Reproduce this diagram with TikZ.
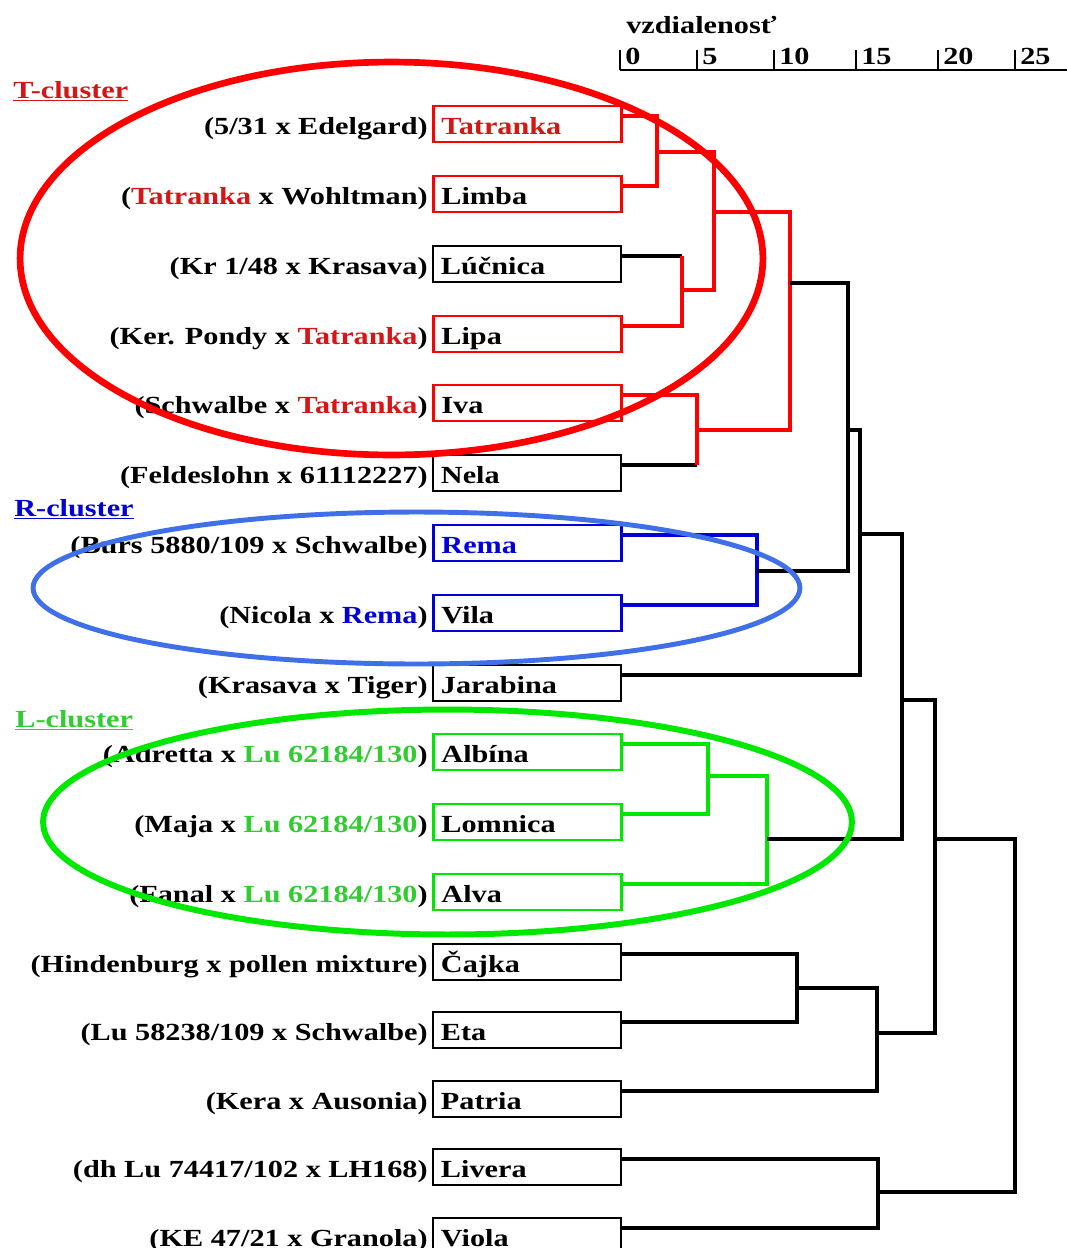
\documentclass[tikz,border=0pt]{standalone}
\usepackage{fontspec}
\setmainfont{Liberation Serif}[FakeStretch=1.23]
\usetikzlibrary{positioning}

\definecolor{tred}{RGB}{255,0,0}
\definecolor{ttxt}{RGB}{214,22,22}
\definecolor{rblue}{RGB}{0,0,215}
\definecolor{rring}{RGB}{64,112,232}
\definecolor{lgreen}{RGB}{0,232,0}
\definecolor{ltxt}{RGB}{48,204,48}

\begin{document}
\begin{tikzpicture}[x=0.02cm,y=-0.02cm,
    font=\fontsize{14}{16}\selectfont\bfseries,
    cv/.style={draw,line width=1.1pt,anchor=west,minimum width=3.76cm,minimum height=0.72cm,
      text width=3.44cm,align=left,inner xsep=0.16cm,inner ysep=0pt,text height=13.4pt,text depth=2pt},
    tcv/.style={cv,draw=tred,line width=1.6pt},
    rcv/.style={cv,draw=rblue,line width=1.6pt},
    lcv/.style={cv,draw=lgreen,line width=1.6pt},
    pedigree/.style={left=0.08cm of #1,inner sep=0pt,text height=13.4pt,text depth=2pt},
    kline/.style={line width=2.3pt},
    tline/.style={draw=tred,line width=1.9pt},
    rline/.style={draw=rblue,line width=1.9pt},
    lline/.style={draw=lgreen,line width=1.9pt}]
    \useasboundingbox (0,0) rectangle (1067,1248);

    %scale
    \node[anchor=base west,inner sep=0pt] (title) at (626,33) {vzdialenosť};
    \draw[line width=1.2pt] (620,70) coordinate (axis0) -- (1067,70) coordinate (axis1);
    \draw[line width=1.2pt] (620,50) -- (620,70) (697,50) -- (697,70) (774,50) -- (774,70)
      (856,50) -- (856,70) (938,50) -- (938,70) (1015,50) -- (1015,70);
    \node[anchor=base west,inner sep=0pt] (s0) at (625,64) {0};
    \node[anchor=base west,inner sep=0pt] (s5) at (702,64) {5};
    \node[anchor=base west,inner sep=0pt] (s10) at (779,64) {10};
    \node[anchor=base west,inner sep=0pt] (s15) at (861,64) {15};
    \node[anchor=base west,inner sep=0pt] (s20) at (943,64) {20};
    \node[anchor=base west,inner sep=0pt] (s25) at (1020,64) {25};

    %cultivars
    \node[tcv,text=ttxt] (tatranka) at (432,124) {Tatranka};
    \node[tcv] (limba) at (432,194) {Limba};
    \node[cv] (lucnica) at (432,264) {Lúčnica};
    \node[tcv] (lipa) at (432,334) {Lipa};
    \node[tcv] (iva) at (432,403) {Iva};
    \node[cv] (nela) at (432,473) {Nela};
    \node[rcv,text=rblue] (rema) at (432,543) {Rema};
    \node[rcv] (vila) at (432,613) {Vila};
    \node[cv] (jarabina) at (432,683) {Jarabina};
    \node[lcv] (albina) at (432,752) {Albína};
    \node[lcv] (lomnica) at (432,822) {Lomnica};
    \node[lcv] (alva) at (432,892) {Alva};
    \node[cv] (cajka) at (432,962) {Čajka};
    \node[cv] (eta) at (432,1030) {Eta};
    \node[cv] (patria) at (432,1099) {Patria};
    \node[cv] (livera) at (432,1167) {Livera};
    \node[cv] (viola) at (432,1236) {Viola};

    %parents
    \node[pedigree=tatranka] (tatranka-p) {(5/31 x Edelgard)};
    \node[pedigree=limba] (limba-p) {(\textcolor{ttxt}{Tatranka} x Wohltman)};
    \node[pedigree=lucnica] (lucnica-p) {(Kr 1/48 x Krasava)};
    \node[pedigree=lipa] (lipa-p) {(Ker. Pondy x \textcolor{ttxt}{Tatranka})};
    \node[pedigree=iva] (iva-p) {(Schwalbe x \textcolor{ttxt}{Tatranka})};
    \node[pedigree=nela] (nela-p) {(Feldeslohn x 61112227)};
    \node[pedigree=rema] (rema-p) {(Burs 5880/109 x Schwalbe)};
    \node[pedigree=vila] (vila-p) {(Nicola x \textcolor{rblue}{Rema})};
    \node[pedigree=jarabina] (jarabina-p) {(Krasava x Tiger)};
    \node[pedigree=albina] (albina-p) {(Adretta x \textcolor{ltxt}{Lu 62184/130})};
    \node[pedigree=lomnica] (lomnica-p) {(Maja x \textcolor{ltxt}{Lu 62184/130})};
    \node[pedigree=alva] (alva-p) {(Fanal x \textcolor{ltxt}{Lu 62184/130})};
    \node[pedigree=cajka] (cajka-p) {(Hindenburg x pollen mixture)};
    \node[pedigree=eta] (eta-p) {(Lu 58238/109 x Schwalbe)};
    \node[pedigree=patria] (patria-p) {(Kera x Ausonia)};
    \node[pedigree=livera] (livera-p) {(dh Lu 74417/102 x LH168)};
    \node[pedigree=viola] (viola-p) {(KE 47/21 x Granola)};

    %line ends
    \coordinate (tatranka-e) at ([yshift=.16cm]tatranka.east);
    \coordinate (limba-e) at ([yshift=.16cm]limba.east);
    \coordinate (lucnica-e) at ([yshift=.16cm]lucnica.east);
    \coordinate (lipa-e) at ([yshift=.16cm]lipa.east);
    \coordinate (iva-e) at ([yshift=.16cm]iva.east);
    \coordinate (nela-e) at ([yshift=.16cm]nela.east);
    \coordinate (rema-e) at ([yshift=.16cm]rema.east);
    \coordinate (vila-e) at ([yshift=.16cm]vila.east);
    \coordinate (jarabina-e) at ([yshift=.16cm]jarabina.east);
    \coordinate (albina-e) at ([yshift=.16cm]albina.east);
    \coordinate (lomnica-e) at ([yshift=.16cm]lomnica.east);
    \coordinate (alva-e) at ([yshift=.16cm]alva.east);
    \coordinate (cajka-e) at ([yshift=.16cm]cajka.east);
    \coordinate (eta-e) at ([yshift=.16cm]eta.east);
    \coordinate (patria-e) at ([yshift=.16cm]patria.east);
    \coordinate (livera-e) at ([yshift=.16cm]livera.east);
    \coordinate (viola-e) at ([yshift=.16cm]viola.east);

    %T-cluster tree
    \coordinate (tali) at (657,152);
    \coordinate (luli) at (682,290);
    \coordinate (tlll) at (714,212);
    \coordinate (ivne) at (697,430);
    \coordinate (tcl) at (790,283);
    \draw[tline] (tatranka-e) -| (tali);
    \draw[tline] (limba-e) -| (tali);
    \draw[kline] (lucnica-e) -- (lucnica-e -| luli);
    \draw[tline] (lucnica-e -| luli) -- (luli);
    \draw[tline] (lipa-e) -| (luli);
    \draw[tline] (tali) -| (tlll);
    \draw[tline] (luli) -| (tlll);
    \draw[tline] (iva-e) -| (ivne);
    \draw[kline] (nela-e) -- (nela-e -| ivne);
    \draw[tline] (nela-e -| ivne) -- (ivne);
    \draw[tline] (tlll) -| (tcl);
    \draw[tline] (ivne) -| (tcl);

    %R-cluster tree
    \coordinate (revi) at (757,571);
    \draw[rline] (rema-e) -| (revi);
    \draw[rline] (vila-e) -| (revi);

    \coordinate (trc) at (848,430);
    \coordinate (trj) at (860,534);
    \draw[kline] (tcl) -| (trc);
    \draw[kline] (revi) -| (trc);
    \draw[kline] (trc) -| (trj);
    \draw[kline] (jarabina-e) -| (trj);

    %L-cluster tree
    \coordinate (allo) at (708,776);
    \coordinate (lcl) at (767,839);
    \draw[lline] (albina-e) -| (allo);
    \draw[lline] (lomnica-e) -| (allo);
    \draw[lline] (allo) -| (lcl);
    \draw[lline] (alva-e) -| (lcl);

    \coordinate (upper) at (902,700);
    \draw[kline] (trj) -| (upper);
    \draw[kline] (lcl) -| (upper);

    %rest of tree
    \coordinate (caet) at (797,988);
    \coordinate (cep) at (877,1033);
    \coordinate (mid) at (935,839);
    \coordinate (live) at (878,1192);
    \coordinate (root) at (1015,1016);
    \draw[kline] (cajka-e) -| (caet);
    \draw[kline] (eta-e) -| (caet);
    \draw[kline] (caet) -| (cep);
    \draw[kline] (patria-e) -| (cep);
    \draw[kline] (upper) -| (mid);
    \draw[kline] (cep) -| (mid);
    \draw[kline] (livera-e) -| (live);
    \draw[kline] (viola-e) -| (live);
    \draw[kline] (mid) -| (root);
    \draw[kline] (live) -| (root);

    %cluster marks
    \node[anchor=base west,inner sep=0pt,text=ttxt] (tlabel) at (13,98) {\underline{T-cluster}};
    \node[anchor=base west,inner sep=0pt,text=rblue] (rlabel) at (14,516) {\underline{R-cluster}};
    \node[anchor=base west,inner sep=0pt,text=ltxt] (llabel) at (15,727) {\underline{L-cluster}};
    \draw[tred,line width=3.8pt] (391.5,258.5) ellipse [x radius=7.43cm, y radius=3.93cm];
    \draw[rring,line width=2.8pt] (416.5,588) ellipse [x radius=7.67cm, y radius=1.52cm];
    \draw[lgreen,line width=3.4pt] (447.5,822) ellipse [x radius=8.09cm, y radius=2.25cm];
\end{tikzpicture}
\end{document}
